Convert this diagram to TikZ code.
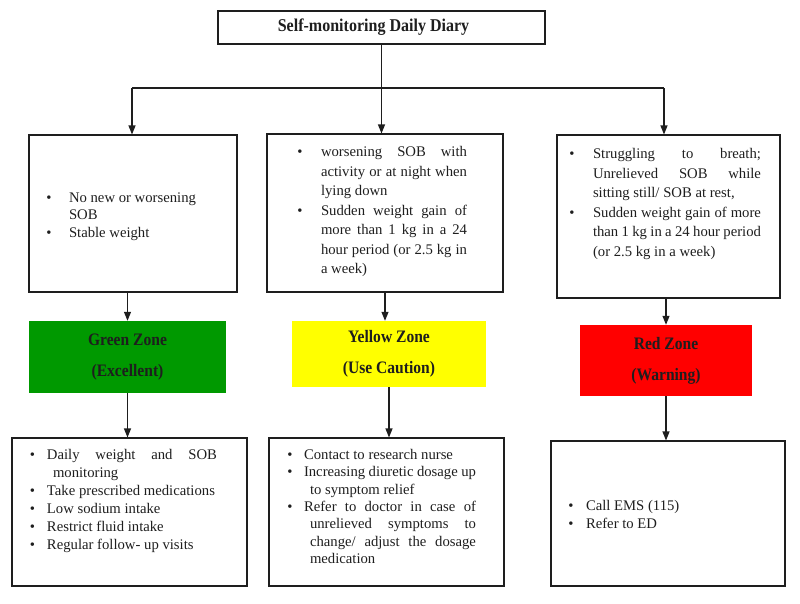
\documentclass[tikz,border=0pt]{standalone}
\usepackage{fontspec}
\setmainfont{Liberation Serif}
\newfontfamily\zonefont[FakeStretch=0.89]{Liberation Serif}
\usepackage{enumitem}
\setlist[itemize]{label=\textbullet,topsep=0pt,partopsep=0pt,parsep=0pt,itemsep=0pt}
\usetikzlibrary{arrows.meta}
\definecolor{ink}{HTML}{1E1E1E}
\definecolor{zonegreen}{RGB}{0,153,0}
\definecolor{zoneyellow}{RGB}{255,255,0}
\definecolor{zonered}{RGB}{255,0,0}
\newcommand{\diarylist}[6]{\makebox[#2][l]{\begin{minipage}[c][#1][t]{#2}\tolerance=10000\hbadness=10000
  \fontsize{14.7pt}{#5}\selectfont\vspace*{#3}\begin{itemize}[#4]#6\end{itemize}\end{minipage}}}

\begin{document}
\begin{tikzpicture}[x=1pt,y=-1pt,
    diary/.style={draw=ink,line width=1.1pt,inner sep=0pt,text=ink},
    zone/.style={inner sep=0pt,align=center,text=ink,font=\zonefont\bfseries\fontsize{17.5pt}{31pt}\selectfont},
    link/.style={draw=ink,line width=1.1pt,-{Triangle[length=9pt,width=7pt]}}]
  \useasboundingbox (0,0) rectangle (800,603);
  \node[diary,minimum width=327pt,minimum height=33pt,font=\zonefont\bfseries\fontsize{18pt}{20pt}\selectfont] (diary) at (381.5,27.5) {\hspace*{-16pt}Self-monitoring Daily Diary};
  \node[diary] (sym1) at (133,213.5) {\diarylist{157pt}{208pt}{57.3pt}{leftmargin=40pt,rightmargin=30pt,labelsep=17.5pt}{17.5pt}{\item No new or worsening\newline SOB \item Stable weight}};
  \node[diary] (sym2) at (385,213) {\diarylist{158pt}{236pt}{12.3pt}{leftmargin=54pt,rightmargin=36pt,labelsep=18.5pt}{19.5pt}{\item worsening SOB with\linebreak activity or at night when\linebreak lying down \item Sudden weight gain of\linebreak more than 1 kg in a 24\linebreak hour period (or 2.5 kg in\linebreak a week)}};
  \node[diary] (sym3) at (668.5,216.5) {\diarylist{163pt}{223pt}{13.3pt}{leftmargin=36pt,rightmargin=19pt,labelsep=18.5pt}{19.6pt}{\item Struggling to breath;\linebreak Unrelieved SOB while\linebreak sitting still/ SOB at rest, \item Sudden weight gain of more\linebreak than 1 kg in a 24 hour period\linebreak (or 2.5 kg in a week)}};
  \node[zone,fill=zonegreen,minimum width=197pt,minimum height=72pt] (green) at (127.5,357) {Green Zone\\(Excellent)};
  \node[zone,fill=zoneyellow,minimum width=194pt,minimum height=66pt] (yellow) at (389,354) {Yellow Zone\\(Use Caution)};
  \node[zone,fill=zonered,minimum width=172pt,minimum height=71pt] (red) at (666,360.5) {Red Zone\\(Warning)};
  \node[diary] (act1) at (129.5,512) {\diarylist{148pt}{235pt}{11.3pt}{leftmargin=41pt,itemindent=-6pt,rightmargin=30pt,labelsep=12pt}{17.9pt}{\item Daily weight and SOB\linebreak monitoring \item Take prescribed medications \item Low sodium intake \item Restrict fluid intake \item Regular follow- up visits}};
  \node[diary] (act2) at (386.5,512) {\diarylist{148pt}{235pt}{11.3pt}{leftmargin=41pt,itemindent=-6pt,rightmargin=28pt,labelsep=11.5pt}{17.3pt}{\item Contact to research nurse \item Increasing diuretic dosage up\linebreak to symptom relief \item Refer to doctor in case of\linebreak unrelieved symptoms to\linebreak change/ adjust the dosage\linebreak medication}};
  \node[diary] (act3) at (668,513.5) {\diarylist{145pt}{234pt}{59.3pt}{leftmargin=35pt,rightmargin=30pt,labelsep=12.5pt}{18pt}{\item Call EMS (115) \item Refer to ED}};
  \coordinate (fork1) at (132,88);
  \coordinate (fork3) at (664,88);
  \draw[draw=ink,line width=1.1pt] (fork1) -- (fork3);
  \draw[link] (diary.south) -- (diary.south |- sym2.north);
  \draw[link] (fork1) -- (fork1 |- sym1.north);
  \draw[link] (fork3) -- (fork3 |- sym3.north);
  \draw[link] (green |- sym1.south) -- (green.north);
  \draw[link] (green.south) -- (green.south |- act1.north);
  \draw[link] (sym2.south) -- (sym2.south |- yellow.north);
  \draw[link] (yellow.south) -- (yellow.south |- act2.north);
  \draw[link] (red |- sym3.south) -- (red.north);
  \draw[link] (red.south) -- (red.south |- act3.north);
\end{tikzpicture}
\end{document}
